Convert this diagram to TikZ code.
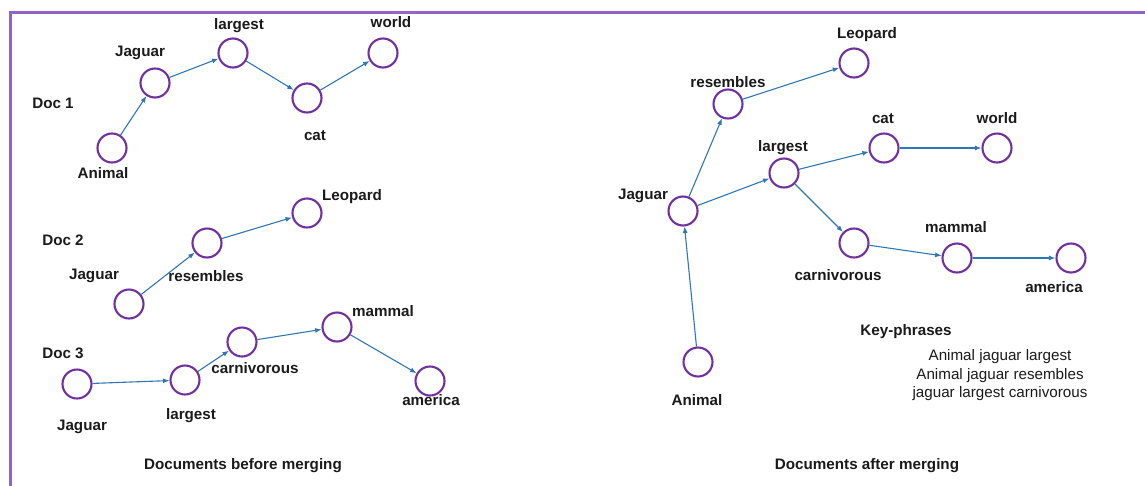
\documentclass[tikz,border=0pt]{standalone}
\usepackage{fontspec}
\setmainfont{Liberation Sans}
\usetikzlibrary{arrows.meta}
\definecolor{nodepurple}{HTML}{7030A0}
\definecolor{framepurple}{HTML}{9264C8}
\definecolor{arrowblue}{HTML}{2F77B3}
\definecolor{txt}{HTML}{1A1A1A}
\tikzset{
  kp/.style={circle,draw=nodepurple,line width=2.1pt,minimum size=29pt,inner sep=0pt},
  lbl/.style={text=txt,font=\fontsize{15.2}{18}\selectfont\bfseries,inner sep=0pt,anchor=center},
  plain/.style={text=txt,font=\fontsize{15.2}{18}\selectfont,inner sep=0pt,anchor=center},
  link/.style={draw=arrowblue,line width=1.1pt,-{Latex[length=6.5pt,width=5pt]}},
  frame/.style={draw=framepurple,line width=3pt}
}
\begin{document}
\begin{tikzpicture}[x=1pt,y=-1pt]
\useasboundingbox (0,0) rectangle (1145,485);
\draw[frame] (1150,12.8) -- (10.5,12.8) -- (10.5,490);

% ---------- Doc 1 ----------
\node[lbl] (d1) at (53,103) {Doc 1};
\node[kp] (a1) at (112,148) {};
\node[kp] (j1) at (155,83) {};
\node[kp] (l1) at (233,53) {};
\node[kp] (c1) at (307,98) {};
\node[kp] (w1) at (383,53) {};
\node[lbl] (ta1) at (103,173) {Animal};
\node[lbl] (tj1) at (140,53) {Jaguar};
\node[lbl] (tl1) at (239,26) {largest};
\node[lbl] (tc1) at (315,136) {cat};
\node[lbl] (tw1) at (391,22) {world};
\draw[link] (a1) -- (j1);
\draw[link] (j1) -- (l1);
\draw[link] (l1) -- (c1);
\draw[link] (c1) -- (w1);

% ---------- Doc 2 ----------
\node[lbl] (d2) at (63,240) {Doc 2};
\node[kp] (j2) at (129,304) {};
\node[kp] (r2) at (207,243) {};
\node[kp] (p2) at (307,213) {};
\node[lbl] (tj2) at (94,276) {Jaguar};
\node[lbl] (tr2) at (206,276) {resembles};
\node[lbl] (tp2) at (352,197) {Leopard};
\draw[link] (j2) -- (r2);
\draw[link] (r2) -- (p2);

% ---------- Doc 3 ----------
\node[lbl] (d3) at (63,353) {Doc 3};
\node[kp] (j3) at (77,384) {};
\node[kp] (l3) at (185,380) {};
\node[kp] (c3) at (242,342) {};
\node[kp] (m3) at (337,327) {};
\node[kp] (am3) at (430,381) {};
\node[lbl] (tj3) at (82,427) {Jaguar};
\node[lbl] (tl3) at (191,416) {largest};
\node[lbl] (tc3) at (255,368) {carnivorous};
\node[lbl] (tm3) at (383,311) {mammal};
\node[lbl] (tam3) at (431,400) {america};
\draw[link] (j3) -- (l3);
\draw[link] (l3) -- (c3);
\draw[link] (c3) -- (m3);
\draw[link] (m3) -- (am3);

\node[lbl] (capL) at (243,466) {Documents before merging};

% ---------- Merged ----------
\node[kp] (ma) at (698,362) {};
\node[kp] (mj) at (683,211) {};
\node[kp] (mr) at (728,104) {};
\node[kp] (mp) at (854,63) {};
\node[kp] (ml) at (784,173) {};
\node[kp] (mc) at (884,148) {};
\node[kp] (mw) at (997,148) {};
\node[kp] (mcv) at (854,243) {};
\node[kp] (mm) at (957,258) {};
\node[kp] (mam) at (1071,258) {};
\node[lbl] (tma) at (697,400) {Animal};
\node[lbl] (tmj) at (643,196) {Jaguar};
\node[lbl] (tmr) at (728,82) {resembles};
\node[lbl] (tmp) at (867,35) {Leopard};
\node[lbl] (tml) at (783,148) {largest};
\node[lbl] (tmc) at (883,119) {cat};
\node[lbl] (tmw) at (997,118) {world};
\node[lbl] (tmcv) at (838,275) {carnivorous};
\node[lbl] (tmm) at (956,227) {mammal};
\node[lbl] (tmam) at (1054,287) {america};
\draw[link] (ma) -- (mj);
\draw[link] (mj) -- (mr);
\draw[link] (mr) -- (mp);
\draw[link] (mj) -- (ml);
\draw[link] (ml) -- (mc);
\draw[link] (mc) -- (mw);
\draw[link] (ml) -- (mcv);
\draw[link] (mcv) -- (mm);
\draw[link] (mm) -- (mam);

\node[lbl] (kph) at (906,332) {Key-phrases};
\node[plain] (k1) at (1000,357) {Animal jaguar largest};
\node[plain] (k2) at (1000,376) {Animal jaguar resembles};
\node[plain] (k3) at (1000,394) {jaguar largest carnivorous};

\node[lbl] (capR) at (867,466) {Documents after merging};
\end{tikzpicture}
\end{document}
